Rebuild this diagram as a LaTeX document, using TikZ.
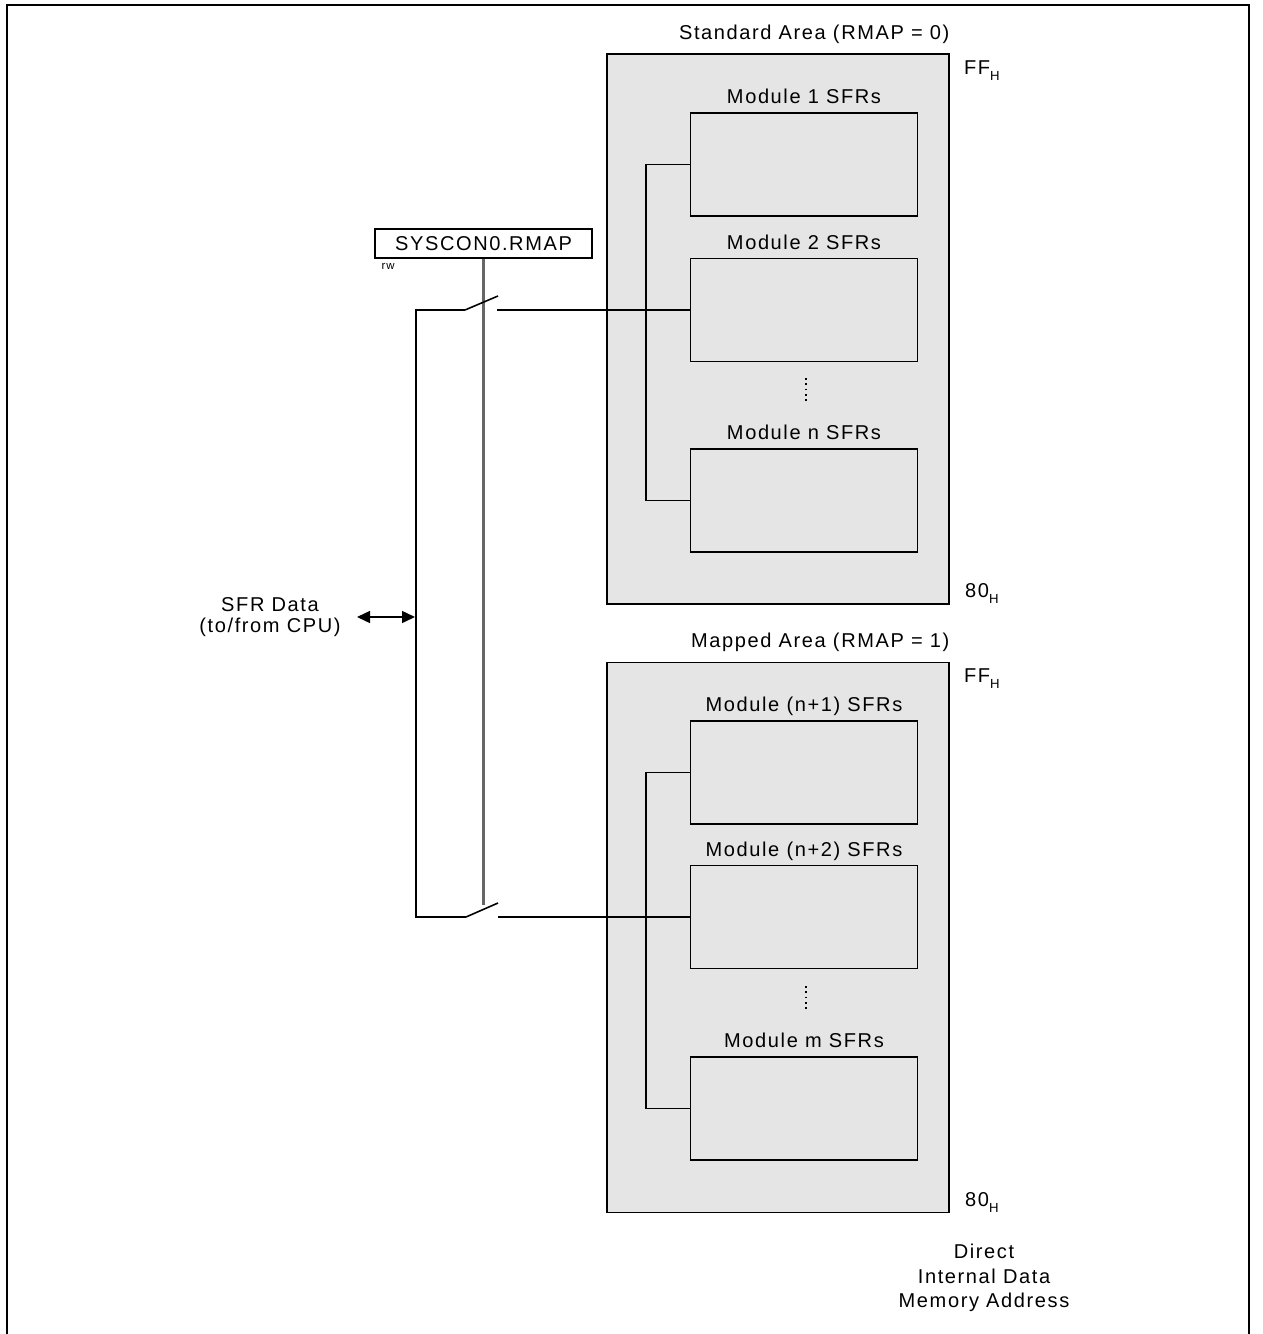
\documentclass[tikz,border=0pt]{standalone}
\usepackage{fontspec}
\setmainfont[LetterSpace=8]{Liberation Sans}
\usetikzlibrary{arrows,arrows.meta,positioning,calc}
\definecolor{areagray}{RGB}{229,229,229}
\newcommand{\subH}{\raisebox{-3.4pt}{\fontsize{7.5}{8}\selectfont H}}

\begin{document}
\begin{tikzpicture}[x=0.02cm, y=-0.02cm, node distance=0.16cm,
            every node/.style={font=\fontsize{11.4}{14}\selectfont},
            area/.style={draw, line width=0.9pt, fill=areagray, inner sep=0pt,
                         minimum width=6.84cm, minimum height=11cm},
            module/.style={draw, line width=0.9pt, fill=areagray, inner sep=0pt,
                         minimum width=4.54cm, minimum height=2.06cm},
            reg/.style={draw, line width=0.9pt, inner sep=0pt,
                         minimum width=4.34cm, minimum height=0.58cm},
            title/.style={inner sep=0pt, text depth=0pt},
            addr/.style={inner sep=0pt, anchor=base west},
            wire/.style={draw, line width=0.9pt},
            ctrl/.style={draw, line width=1.15pt, black!60}]
        \useasboundingbox (0,0) rectangle (1263,1334);
        \draw[line width=1.3pt] (7,1334) -- (7,5) -- (1249,5) -- (1249,1334);

        % standard area
        \node[area] (std) at (778,329) {};
        \node[title, above left=0.26cm and 0cm of std.north east] (stdT) {Standard Area (RMAP = 0)};
        \node[module] (m1) at (804,164.5) {};
        \node[title, above=of m1] (m1T) {Module 1 SFRs};
        \node[module] (m2) at (804,310) {};
        \node[title, above=of m2] (m2T) {Module 2 SFRs};
        \node[module] (mn) at (804,500.5) {};
        \node[title, above=of mn] (mnT) {Module n SFRs};
        \draw[dotted, line width=1pt] (806,378) -- (806,403);
        \node[addr] (stdFF) at ($(std.north east)+(14,21)$) {FF\subH};
        \node[addr] (std80) at ($(std.south east)+(15,-7)$) {80\subH};

        % mapped area
        \node[area] (map) at (778,937.5) {};
        \node[title, above left=0.28cm and 0cm of map.north east] (mapT) {Mapped Area (RMAP = 1)};
        \node[module] (mp1) at (804,772.5) {};
        \node[title, above=of mp1] (mp1T) {Module (n+1) SFRs};
        \node[module] (mp2) at (804,917) {};
        \node[title, above=of mp2] (mp2T) {Module (n+2) SFRs};
        \node[module] (mm) at (804,1108.5) {};
        \node[title, above=of mm] (mmT) {Module m SFRs};
        \draw[dotted, line width=1pt] (806,986) -- (806,1011);
        \node[addr] (mapFF) at ($(map.north east)+(14,21)$) {FF\subH};
        \node[addr] (map80) at ($(map.south east)+(15,-7)$) {80\subH};

        \node[align=center] (addr) at (984,1278) {Direct\\Internal Data\\Memory Address};

        % register and switches
        \node[reg] (rmap) at (483.5,243.5) {SYSCON0.RMAP};
        \node[inner sep=0pt, font=\fontsize{6.5}{7}\selectfont,
              below right=0.08cm and 0.14cm of rmap.south west] (rw) {rw};
        \coordinate (ctl) at (483.5,905);
        \draw[ctrl] (rmap.south) -- (ctl);

        \coordinate (sw1) at (465,310);
        \coordinate (sw2) at (466,917);
        \coordinate (c1) at (497,310);
        \coordinate (c2) at (498,917);
        \draw[wire] (sw1) -- ++(-49,0) |- (sw2);
        \draw[wire] (sw1) -- ++(33,-14);
        \draw[wire] (sw2) -- ++(32,-14);
        \draw[wire] (c1) -- (m2.west);
        \draw[wire] (c2) -- (mp2.west);
        \draw[wire] (m1.west) -- ++(-44,0) |- (mn.west);
        \draw[wire] (mp1.west) -- ++(-44,0) |- (mm.west);

        % cpu side
        \node[align=center, font=\fontsize{11.4}{12}\selectfont] (sfr) at (270,617.5) {SFR Data\\(to/from CPU)};
        \coordinate (cpu) at (357,617);
        \coordinate (bus) at (415,617);
        \draw[wire, {Triangle[length=7.4pt,width=6.8pt]}-{Triangle[length=7.4pt,width=6.8pt]}] (cpu) -- (bus);
\end{tikzpicture}
\end{document}
